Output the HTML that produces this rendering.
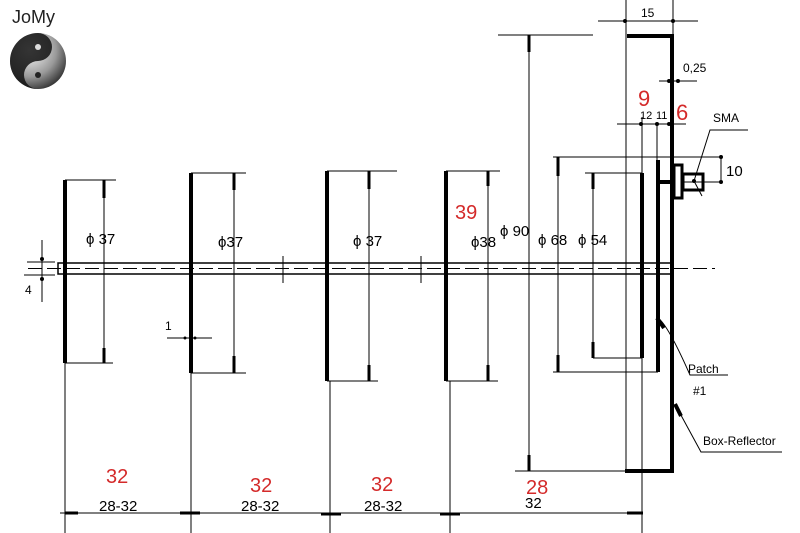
<!DOCTYPE html>
<html><head><meta charset="utf-8"><style>
html,body{margin:0;padding:0;background:#fff;}
svg{display:block;}
text{font-family:"Liberation Sans",sans-serif;}
</style></head><body>
<svg width="800" height="533" viewBox="0 0 800 533" xmlns="http://www.w3.org/2000/svg">
<defs>
<radialGradient id="g" cx="0.35" cy="0.3" r="0.8">
<stop offset="0" stop-color="#fff"/><stop offset="0.6" stop-color="#999"/><stop offset="1" stop-color="#222"/>
</radialGradient>
</defs>
<text x="12" y="23" font-size="18" fill="#222">JoMy</text>
<circle cx="38" cy="61" r="28" fill="url(#g)"/>
<path d="M38 33 A28 28 0 0 0 38 89 A14 14 0 0 1 38 61 A14 14 0 0 0 38 33Z" fill="#111" opacity="0.85"/>
<circle cx="38" cy="47" r="3" fill="#ddd"/><circle cx="38" cy="75" r="3" fill="#222"/>

<g stroke="#000" fill="none" stroke-width="1">
<!-- boom -->
<rect x="58" y="263" width="614" height="11" stroke-width="1.5"/>
<line x1="28" y1="268.5" x2="715" y2="268.5" stroke-dasharray="14,5"/>
<line x1="283" y1="256" x2="283" y2="283"/>
<line x1="421" y1="256" x2="421" y2="283"/>
<!-- 4 dim -->
<line x1="42" y1="240" x2="42" y2="302"/>
<line x1="27" y1="262" x2="55" y2="262"/>
<line x1="24" y1="275" x2="55" y2="275"/>
<!-- D1 -->
<line x1="65" y1="180" x2="116" y2="180"/><line x1="65" y1="363" x2="113" y2="363"/>
<line x1="104" y1="180" x2="104" y2="363"/>
<line x1="65" y1="363" x2="65" y2="533"/>
<!-- D2 -->
<line x1="191" y1="173" x2="246" y2="173"/><line x1="191" y1="373" x2="246" y2="373"/>
<line x1="234" y1="173" x2="234" y2="373"/>
<line x1="191" y1="373" x2="191" y2="533"/>
<line x1="167" y1="338" x2="212" y2="338"/>
<!-- D3 -->
<line x1="327" y1="171" x2="397" y2="171"/><line x1="327" y1="381" x2="378" y2="381"/>
<line x1="369" y1="171" x2="369" y2="381"/>
<line x1="330" y1="381" x2="330" y2="533"/>
<!-- D4 -->
<line x1="446" y1="171" x2="500" y2="171"/><line x1="446" y1="381" x2="498" y2="381"/>
<line x1="488" y1="171" x2="488" y2="381"/>
<line x1="450" y1="381" x2="450" y2="533"/>
<!-- phi90 -->
<line x1="498" y1="35" x2="593" y2="35"/><line x1="515" y1="471" x2="626" y2="471"/>
<line x1="529" y1="35" x2="529" y2="471"/>
<!-- phi68 -->
<line x1="553" y1="157" x2="721" y2="157"/><line x1="553" y1="372" x2="658" y2="372"/>
<line x1="558" y1="157" x2="558" y2="372"/>
<!-- phi54 -->
<line x1="585" y1="173" x2="642" y2="173"/><line x1="593" y1="358" x2="642" y2="358"/>
<line x1="593" y1="173" x2="593" y2="358"/>
<!-- box thin -->
<line x1="626" y1="0" x2="626" y2="471"/>
<line x1="673" y1="0" x2="673" y2="36"/>
<line x1="642" y1="358" x2="642" y2="533"/>
<line x1="642" y1="117" x2="642" y2="173"/>
<line x1="657" y1="124" x2="657" y2="160"/>
<!-- dims top -->
<line x1="598" y1="21" x2="698" y2="21"/>
<line x1="659" y1="81" x2="697" y2="81"/>
<line x1="617" y1="124" x2="686" y2="124"/>
<!-- SMA -->
<line x1="721" y1="157" x2="721" y2="182"/>
<line x1="682" y1="182" x2="721" y2="182"/>
<polyline points="694,181 710,130 748,130"/>
<line x1="694" y1="181" x2="702" y2="196"/>
<!-- leaders -->
<path d="M658 318 Q668 325 690 375 L728 375"/>
<polyline points="676,406 701,452 782,452"/>
<!-- bottom dim -->
<line x1="60" y1="513" x2="643" y2="513"/>
</g>
<g stroke="#000" stroke-width="4" fill="none">
<line x1="65" y1="180" x2="65" y2="363"/>
<line x1="191" y1="173" x2="191" y2="373"/>
<line x1="327" y1="171" x2="327" y2="381"/>
<line x1="446" y1="171" x2="446" y2="381"/>
<line x1="642" y1="173" x2="642" y2="358"/>
<line x1="658" y1="160" x2="658" y2="372"/>
<polyline points="627,36 672,36 672,471 625,471"/>
<line x1="658" y1="182" x2="675" y2="182"/>
<line x1="675" y1="404" x2="681" y2="416"/>
<line x1="657" y1="318" x2="664" y2="328"/>
</g>
<g stroke="#000" stroke-width="3" fill="none">
<rect x="674" y="165" width="8" height="33"/>
<rect x="683" y="174" width="20" height="16"/>
<line x1="104" y1="180" x2="104" y2="198"/><line x1="104" y1="348" x2="104" y2="363"/>
<line x1="234" y1="173" x2="234" y2="190"/><line x1="234" y1="356" x2="234" y2="373"/>
<line x1="369" y1="171" x2="369" y2="189"/><line x1="369" y1="365" x2="369" y2="381"/>
<line x1="488" y1="171" x2="488" y2="186"/><line x1="488" y1="365" x2="488" y2="381"/>
<line x1="529" y1="35" x2="529" y2="52"/><line x1="529" y1="455" x2="529" y2="471"/>
<line x1="558" y1="157" x2="558" y2="176"/><line x1="558" y1="355" x2="558" y2="372"/>
<line x1="593" y1="173" x2="593" y2="189"/><line x1="593" y1="342" x2="593" y2="358"/>
<line x1="65" y1="513" x2="78" y2="513"/><line x1="180" y1="513" x2="200" y2="513"/>
<line x1="321" y1="514" x2="341" y2="514"/><line x1="440" y1="514" x2="460" y2="514"/>
<line x1="627" y1="513" x2="643" y2="513"/>
</g>
<g fill="#000">
<circle cx="42" cy="259" r="2"/><circle cx="42" cy="279" r="2"/>
<circle cx="185" cy="338" r="1.5"/><circle cx="195" cy="338" r="1.5"/>
<circle cx="625" cy="21" r="2"/><circle cx="673" cy="21" r="2"/>
<circle cx="669" cy="81" r="2"/><circle cx="678" cy="81" r="2"/>
<circle cx="641" cy="124" r="2"/><circle cx="657" cy="124" r="2"/><circle cx="669" cy="124" r="2"/>
<circle cx="721" cy="157" r="2"/><circle cx="721" cy="182" r="2"/><circle cx="694" cy="181" r="2"/>
</g>
<g font-size="15" fill="#000">
<text x="86" y="244">ϕ 37</text>
<text x="218" y="247">ϕ37</text>
<text x="353" y="246">ϕ 37</text>
<text x="471" y="247">ϕ38</text>
<text x="500" y="236">ϕ 90</text>
<text x="538" y="245">ϕ 68</text>
<text x="578" y="245">ϕ 54</text>
<text x="99" y="511">28-32</text>
<text x="241" y="511">28-32</text>
<text x="364" y="511">28-32</text>
<text x="525" y="508">32</text>
<text x="726" y="176">10</text>
</g>
<g font-size="12" fill="#000">
<text x="641" y="17">15</text>
<text x="683" y="72">0,25</text>
<text x="640" y="119" font-size="11">12</text>
<text x="656" y="119" font-size="11">11</text>
<text x="713" y="122">SMA</text>
<text x="688" y="373">Patch</text>
<text x="693" y="395">#1</text>
<text x="703" y="445">Box-Reflector</text>
<text x="25" y="294">4</text>
<text x="165" y="330">1</text>
</g>
<g font-size="20" fill="#d42a2a">
<text x="455" y="219">39</text>
<text x="638" y="106" font-size="22">9</text>
<text x="676" y="120" font-size="22">6</text>
<text x="106" y="483">32</text>
<text x="250" y="492">32</text>
<text x="371" y="491">32</text>
<text x="526" y="494">28</text>
</g>
</svg>
</body></html>
